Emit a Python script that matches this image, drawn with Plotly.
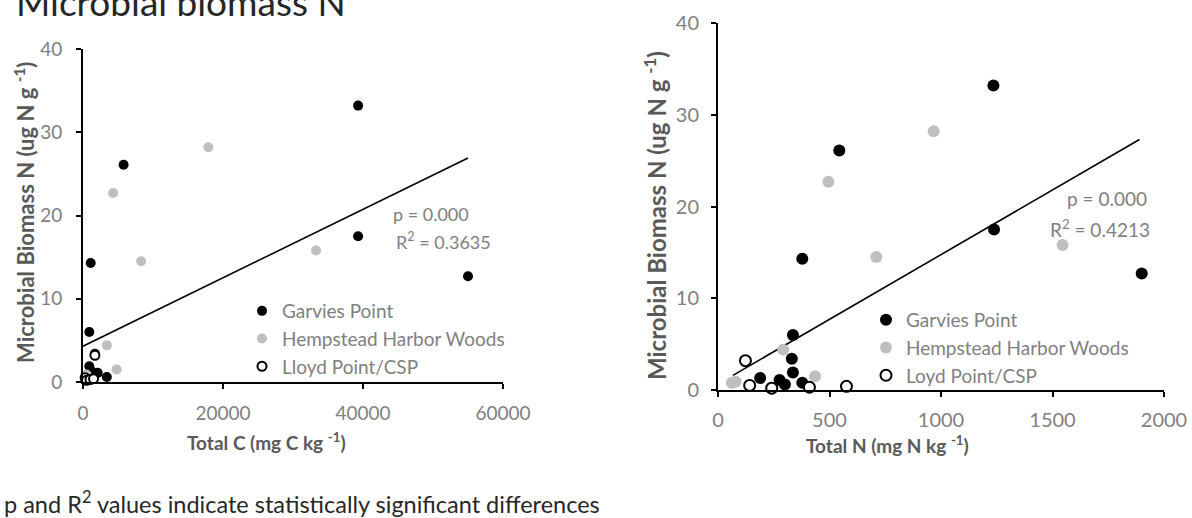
import plotly.graph_objects as go

W, H = 1192, 518
FONT = "Lato"

# ---------------- data ----------------
# Garvies Point
gp_mbn = [33.2, 26.1, 17.5, 14.3, 12.7, 6.0, 3.4, 1.9, 1.3, 1.1, 0.8, 0.6]
gp_tc = [39300, 5800, 39300, 1100, 55000, 900, 1700, 900, 1200, 2100, 600, 3400]
gp_tn = [1235, 544, 1238, 378, 1900, 336, 331, 336, 189, 276, 378, 300]
# Hempstead Harbor Woods
hh_mbn = [28.2, 22.7, 15.8, 14.5, 4.4, 1.5, 0.9, 0.8, 0.2]
hh_tc = [17900, 4300, 33300, 8300, 3400, 4800, 500, 300, 1000]
hh_tn = [967, 495, 1545, 710, 292, 435, 79, 62, 237]
# Lloyd Point / CSP
lp_mbn = [3.2, 0.5, 0.2, 0.3, 0.4]
lp_tc = [1700, 300, 500, 1000, 1500]
lp_tn = [123, 142, 241, 410, 576]

# regression lines (end points)
fit_c_x = [0, 55000]
fit_c_y = [4.3, 26.9]
fit_n_x = [67, 1890]
fit_n_y = [1.6, 27.3]

c_ticks = [0, 20000, 40000, 60000]
n_ticks = [0, 500, 1000, 1500, 2000]
y_ticks = [0, 10, 20, 30, 40]

BLACK = "#000000"
GREY = "#bfbfbf"
TXT = "#808080"
TITLE = "#595959"


def px_x(p):
    return p / W


def px_y(p):
    return 1 - p / H


fig = go.Figure()

# ---------------- left chart ----------------
ms_l = 10
fig.add_trace(go.Scatter(x=fit_c_x, y=fit_c_y, mode="lines", line=dict(color="black", width=1.6),
                         showlegend=False, xaxis="x", yaxis="y", hoverinfo="skip"))
fig.add_trace(go.Scatter(x=gp_tc, y=gp_mbn, mode="markers", name="Garvies Point",
                         marker=dict(color=BLACK, size=ms_l), xaxis="x", yaxis="y", legend="legend"))
fig.add_trace(go.Scatter(x=hh_tc, y=hh_mbn, mode="markers", name="Hempstead Harbor Woods",
                         marker=dict(color=GREY, size=ms_l), xaxis="x", yaxis="y", legend="legend"))
fig.add_trace(go.Scatter(x=lp_tc, y=lp_mbn, mode="markers", name="Lloyd Point/CSP",
                         marker=dict(color="white", size=ms_l - 1, line=dict(color="black", width=2)),
                         xaxis="x", yaxis="y", legend="legend"))

# ---------------- right chart ----------------
ms_r = 12
fig.add_trace(go.Scatter(x=fit_n_x, y=fit_n_y, mode="lines", line=dict(color="black", width=1.6),
                         showlegend=False, xaxis="x2", yaxis="y2", hoverinfo="skip"))
fig.add_trace(go.Scatter(x=gp_tn, y=gp_mbn, mode="markers", name="Garvies Point",
                         marker=dict(color=BLACK, size=ms_r), xaxis="x2", yaxis="y2", legend="legend2"))
fig.add_trace(go.Scatter(x=hh_tn, y=hh_mbn, mode="markers", name="Hempstead Harbor Woods",
                         marker=dict(color=GREY, size=ms_r), xaxis="x2", yaxis="y2", legend="legend2"))
fig.add_trace(go.Scatter(x=lp_tn, y=lp_mbn, mode="markers", name="Loyd Point/CSP",
                         marker=dict(color="white", size=ms_r - 1, line=dict(color="black", width=2)),
                         xaxis="x2", yaxis="y2", legend="legend2"))

for tr in fig.data:
    tr.cliponaxis = False

axis_common = dict(showline=True, linecolor="black", linewidth=2, ticks="outside", ticklen=5,
                   tickwidth=2, tickcolor="black", showgrid=False, zeroline=False,
                   automargin=False, fixedrange=True)

fig.update_layout(
    width=W, height=H,
    margin=dict(l=0, r=0, t=0, b=0, autoexpand=False),
    paper_bgcolor="white", plot_bgcolor="white",
    font=dict(family=FONT, color=TXT),
    xaxis=dict(domain=[px_x(83), px_x(503)], range=[0, 60000], tickvals=c_ticks,
               ticktext=[str(v) for v in c_ticks], anchor="y", ticklabelstandoff=8,
               tickfont=dict(size=19, color=TXT), **axis_common),
    yaxis=dict(domain=[px_y(382), px_y(49)], range=[0, 40], tickvals=y_ticks, anchor="x",
               ticklabelstandoff=10, tickfont=dict(size=19, color=TXT), **axis_common),
    xaxis2=dict(domain=[px_x(718), px_x(1164)], range=[0, 2000], tickvals=n_ticks,
                ticktext=[str(v) for v in n_ticks], anchor="y2", ticklabelstandoff=6,
                tickfont=dict(size=20, color=TXT), **axis_common),
    yaxis2=dict(domain=[px_y(390), px_y(23)], range=[0, 40], tickvals=y_ticks, anchor="x2",
                ticklabelstandoff=8, tickfont=dict(size=20, color=TXT), **axis_common),
    legend=dict(x=px_x(242), y=px_y(292), xanchor="left", yanchor="top",
                font=dict(size=19, color=TXT, family=FONT), bgcolor="rgba(0,0,0,0)",
                itemwidth=30, tracegroupgap=0),
    legend2=dict(x=px_x(866), y=px_y(301), xanchor="left", yanchor="top",
                 font=dict(size=19, color=TXT, family=FONT), bgcolor="rgba(0,0,0,0)",
                 itemwidth=30, tracegroupgap=0),
)

ann = [
    # title
    dict(text="Microbial biomass N", x=px_x(14), y=px_y(26), xanchor="left", yanchor="bottom",
         font=dict(size=37, color="#262626")),
    # footnote
    dict(text="p and R<sup>2</sup> values indicate statistically significant differences",
         x=px_x(2), y=px_y(502), xanchor="left", yanchor="middle",
         font=dict(size=23.5, color="#262626")),
    # left axis titles
    dict(text="<b>Total C (mg C kg <sup>-1</sup>)</b>", x=px_x(266), y=px_y(441),
         xanchor="center", yanchor="middle", font=dict(size=19, color=TITLE)),
    dict(text="<b>Microbial Biomass N (ug N g <sup>-1</sup>)</b>", x=px_x(25), y=px_y(213),
         xanchor="center", yanchor="middle", textangle=-90, font=dict(size=22, color=TITLE)),
    # right axis titles
    dict(text="<b>Total N (mg N kg <sup>-1</sup>)</b>", x=px_x(887), y=px_y(444),
         xanchor="center", yanchor="middle", font=dict(size=19, color=TITLE)),
    dict(text="<b>Microbial Biomass N (ug N g <sup>-1</sup>)</b>", x=px_x(655), y=px_y(216),
         xanchor="center", yanchor="middle", textangle=-90, font=dict(size=24, color=TITLE)),
    # stats left
    dict(text="p = 0.000", x=px_x(431), y=px_y(214), xanchor="center", yanchor="middle",
         font=dict(size=18, color=TXT)),
    dict(text="R<sup>2</sup> = 0.3635", x=px_x(443), y=px_y(241), xanchor="center", yanchor="middle",
         font=dict(size=18, color=TXT)),
    # stats right
    dict(text="p = 0.000", x=px_x(1107), y=px_y(198), xanchor="center", yanchor="middle",
         font=dict(size=19, color=TXT)),
    dict(text="R<sup>2</sup> = 0.4213", x=px_x(1100), y=px_y(228), xanchor="center", yanchor="middle",
         font=dict(size=19, color=TXT)),
]
for a in ann:
    a.update(xref="paper", yref="paper", showarrow=False)
fig.update_layout(annotations=ann)

fig.write_html("out.html", config={"displayModeBar": False},
               post_script="document.body.style.margin='0';document.body.style.padding='0';")
